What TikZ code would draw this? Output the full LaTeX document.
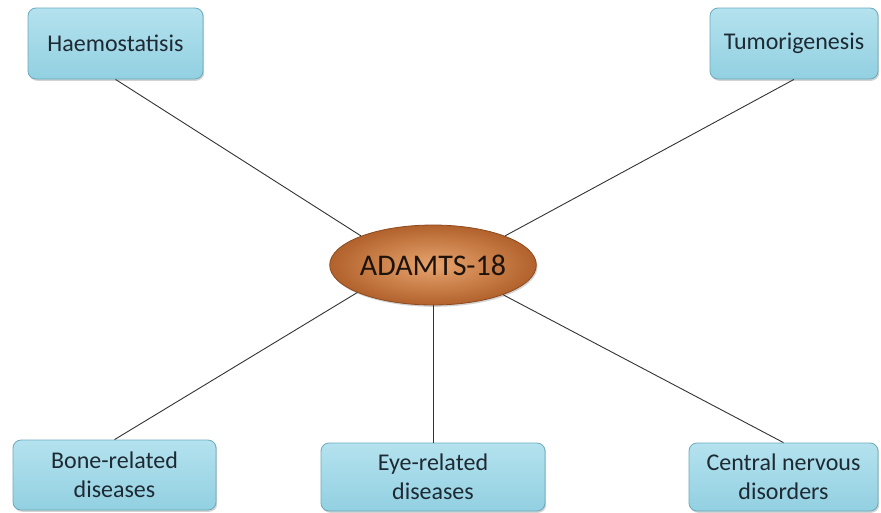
\documentclass[tikz,border=0pt]{standalone}
\usepackage{fontspec}
\setmainfont{Carlito}
\usetikzlibrary{shapes.geometric,shadows}
\definecolor{boxtop}{HTML}{B4E2EE}
\definecolor{boxbot}{HTML}{92D0E1}
\definecolor{boxline}{HTML}{6AAABC}
\definecolor{txt}{HTML}{1E2A33}
\definecolor{hubin}{HTML}{E8A46E}
\definecolor{hubout}{HTML}{B2622C}
\definecolor{hubline}{HTML}{8E4A1E}
\tikzset{
  topic/.style={rectangle, rounded corners=8pt, top color=boxtop, bottom color=boxbot,
    draw=boxline, line width=0.8pt, text=txt, align=center,
    font=\fontsize{24}{29}\selectfont, inner sep=0pt,
    drop shadow={opacity=0.35, shadow xshift=1.2pt, shadow yshift=-1.8pt}},
  hub/.style={ellipse, inner color=hubin, outer color=hubout,
    draw=hubline, line width=0.8pt, text=black!85!brown,
    font=\fontsize{30}{34}\selectfont, inner sep=0pt,
    minimum width=194pt, minimum height=80pt,
    drop shadow={opacity=0.35, shadow xshift=1.2pt, shadow yshift=-1.8pt}},
  link/.style={draw=black!80, line width=0.9pt}
}
\begin{document}
\begin{tikzpicture}[x=1pt,y=-1pt]
\useasboundingbox (0,0) rectangle (881,512);
\node[topic, minimum width=175pt, minimum height=71pt] (haem) at (115.5,43.5) {Haemostatisis};
\node[topic, minimum width=168pt, minimum height=71pt] (tumor) at (794,43.5) {Tumorigenesis};
\node[topic, minimum width=203pt, minimum height=70pt] (bone) at (114.5,475) {Bone-related\\diseases};
\node[topic, minimum width=224pt, minimum height=68pt] (eye) at (433,477) {Eye-related\\diseases};
\node[topic, minimum width=189pt, minimum height=68pt] (cns) at (783.5,477) {Central nervous\\disorders};
\node[hub] (adam) at (433,265) {ADAMTS-18};
\draw[link] (haem.south) -- (adam.158);
\draw[link] (tumor.south) -- (adam.22);
\draw[link] (bone.north) -- (adam.200);
\draw[link] (eye.north) -- (adam.south);
\draw[link] (cns.north) -- (adam.337);
\end{tikzpicture}
\end{document}
